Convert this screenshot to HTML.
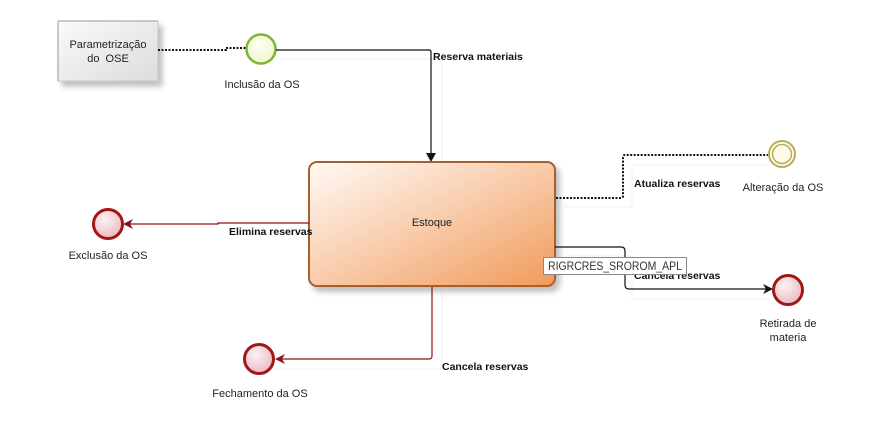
<!DOCTYPE html>
<html><head><meta charset="utf-8"><style>
html,body{margin:0;padding:0;background:#fff;width:896px;height:425px;overflow:hidden}
svg{display:block}
text{font-family:"Liberation Sans",sans-serif;font-size:11px;fill:#222}
.b{font-weight:bold;fill:#111;font-size:10.5px}
</style></head><body>
<svg width="896" height="425" viewBox="0 0 896 425" xmlns="http://www.w3.org/2000/svg">
<defs>
<linearGradient id="og" x1="0" y1="0" x2="1" y2="1">
<stop offset="0" stop-color="#fffaf6"/><stop offset="0.5" stop-color="#f8cbaa"/><stop offset="1" stop-color="#f29a5a"/>
</linearGradient>
<linearGradient id="gg" x1="0" y1="0" x2="1" y2="1">
<stop offset="0" stop-color="#fafafa"/><stop offset="1" stop-color="#dcdcdc"/>
</linearGradient>
<radialGradient id="rg" cx="0.4" cy="0.35" r="0.7">
<stop offset="0" stop-color="#fdf2f4"/><stop offset="1" stop-color="#eab8c0"/>
</radialGradient>
<radialGradient id="grg" cx="0.4" cy="0.35" r="0.7">
<stop offset="0" stop-color="#fdfff0"/><stop offset="1" stop-color="#eef6cc"/>
</radialGradient>
<filter id="sh" x="-20%" y="-20%" width="150%" height="150%">
<feDropShadow dx="4" dy="5" stdDeviation="3" flood-color="#000" flood-opacity="0.25"/>
</filter>
</defs>

<!-- faint ghost lines -->
<g stroke="#f0f0f0" stroke-width="1" fill="none">
<path d="M280 59 H442 V160"/>
<path d="M565 207 H632 V165 H770"/>
<path d="M565 256 H632 V299 H770"/>
<path d="M240 234 H305"/>
<path d="M442 290 V369 H270"/>
</g>

<!-- Parametrização box -->
<rect x="58" y="21" width="100" height="60" fill="url(#gg)" stroke="#c8c8c8" filter="url(#sh)"/>
<path d="M58 81 V21 H158" stroke="#9a9a9a" fill="none"/>
<text x="108" y="48" text-anchor="middle">Parametrização</text>
<text x="108" y="62" text-anchor="middle" xml:space="preserve">do  OSE</text>

<!-- dotted from param to inclusion -->
<path d="M158 50 H226 V48 H246" stroke="#111" stroke-width="2" stroke-dasharray="2,1.5" fill="none"/>

<!-- Inclusão circle -->
<circle cx="261" cy="49" r="14.5" fill="url(#grg)" stroke="#7cb733" stroke-width="2.5"/>
<text x="262" y="88" text-anchor="middle">Inclusão da OS</text>

<!-- reserva materiais connector -->
<path d="M276 50 H429 Q431 50 431 52 V156" stroke="#111" stroke-width="1.2" fill="none"/>
<path d="M426 153 L436 153 L431 162 Z" fill="#111"/>
<text class="b" x="433" y="60">Reserva materiais</text>

<!-- Estoque box -->
<rect x="309" y="162" width="246" height="124" rx="8" ry="8" fill="url(#og)" stroke="#a85f2c" stroke-width="2" filter="url(#sh)"/>
<text x="432" y="226" text-anchor="middle">Estoque</text>

<!-- Atualiza reservas dotted -->
<path d="M556 198 H621 Q623 198 623 196 V157 Q623 155 625 155 H768" stroke="#111" stroke-width="2" stroke-dasharray="2,1.5" fill="none"/>
<text class="b" x="634" y="187">Atualiza reservas</text>

<!-- Alteração double circle -->
<circle cx="782" cy="154" r="13" fill="#fffdf0" stroke="#b8ad5a" stroke-width="2"/>
<circle cx="782" cy="154" r="9.5" fill="#fdfbe8" stroke="#b8ad5a" stroke-width="1.5"/>
<text x="783" y="191" text-anchor="middle">Alteração da OS</text>

<!-- Cancela reservas to Retirada -->
<path d="M555 247 H621 Q625 247 625 251 V285 Q625 289 629 289 H766" stroke="#111" stroke-width="1.2" fill="none"/>
<path d="M763 284 L773 289 L763 294 L766 289 Z" fill="#111"/>
<text class="b" x="634" y="279">Cancela reservas</text>
<!-- tooltip -->
<rect x="543.5" y="257.5" width="143" height="17" fill="#fff" stroke="#888"/>
<text x="548" y="270" textLength="134" lengthAdjust="spacingAndGlyphs" style="font-size:12px;fill:#333">RIGRCRES_SROROM_APL</text>

<!-- Retirada circle -->
<circle cx="788" cy="290" r="14.5" fill="url(#rg)" stroke="#a01818" stroke-width="3"/>
<text x="788" y="327" text-anchor="middle">Retirada de</text>
<text x="788" y="341" text-anchor="middle">materia</text>

<!-- Elimina reservas -->
<path d="M309 223 H218 V224 H130" stroke="#8b1414" stroke-width="1.2" fill="none"/>
<path d="M133 219 L123 224 L133 229 L130 224 Z" fill="#8b1414"/>
<text class="b" x="229" y="235">Elimina reservas</text>
<circle cx="108" cy="224" r="14.5" fill="url(#rg)" stroke="#a01818" stroke-width="3"/>
<text x="108" y="259" text-anchor="middle">Exclusão da OS</text>

<!-- Cancela reservas to Fechamento -->
<path d="M432 287 V356 Q432 359 429 359 H282" stroke="#8b1414" stroke-width="1.2" fill="none"/>
<path d="M285 354 L275 359 L285 364 L282 359 Z" fill="#8b1414"/>
<text class="b" x="442" y="370">Cancela reservas</text>
<circle cx="259" cy="359" r="14.5" fill="url(#rg)" stroke="#a01818" stroke-width="3"/>
<text x="260" y="397" text-anchor="middle">Fechamento da OS</text>
</svg>
</body></html>
